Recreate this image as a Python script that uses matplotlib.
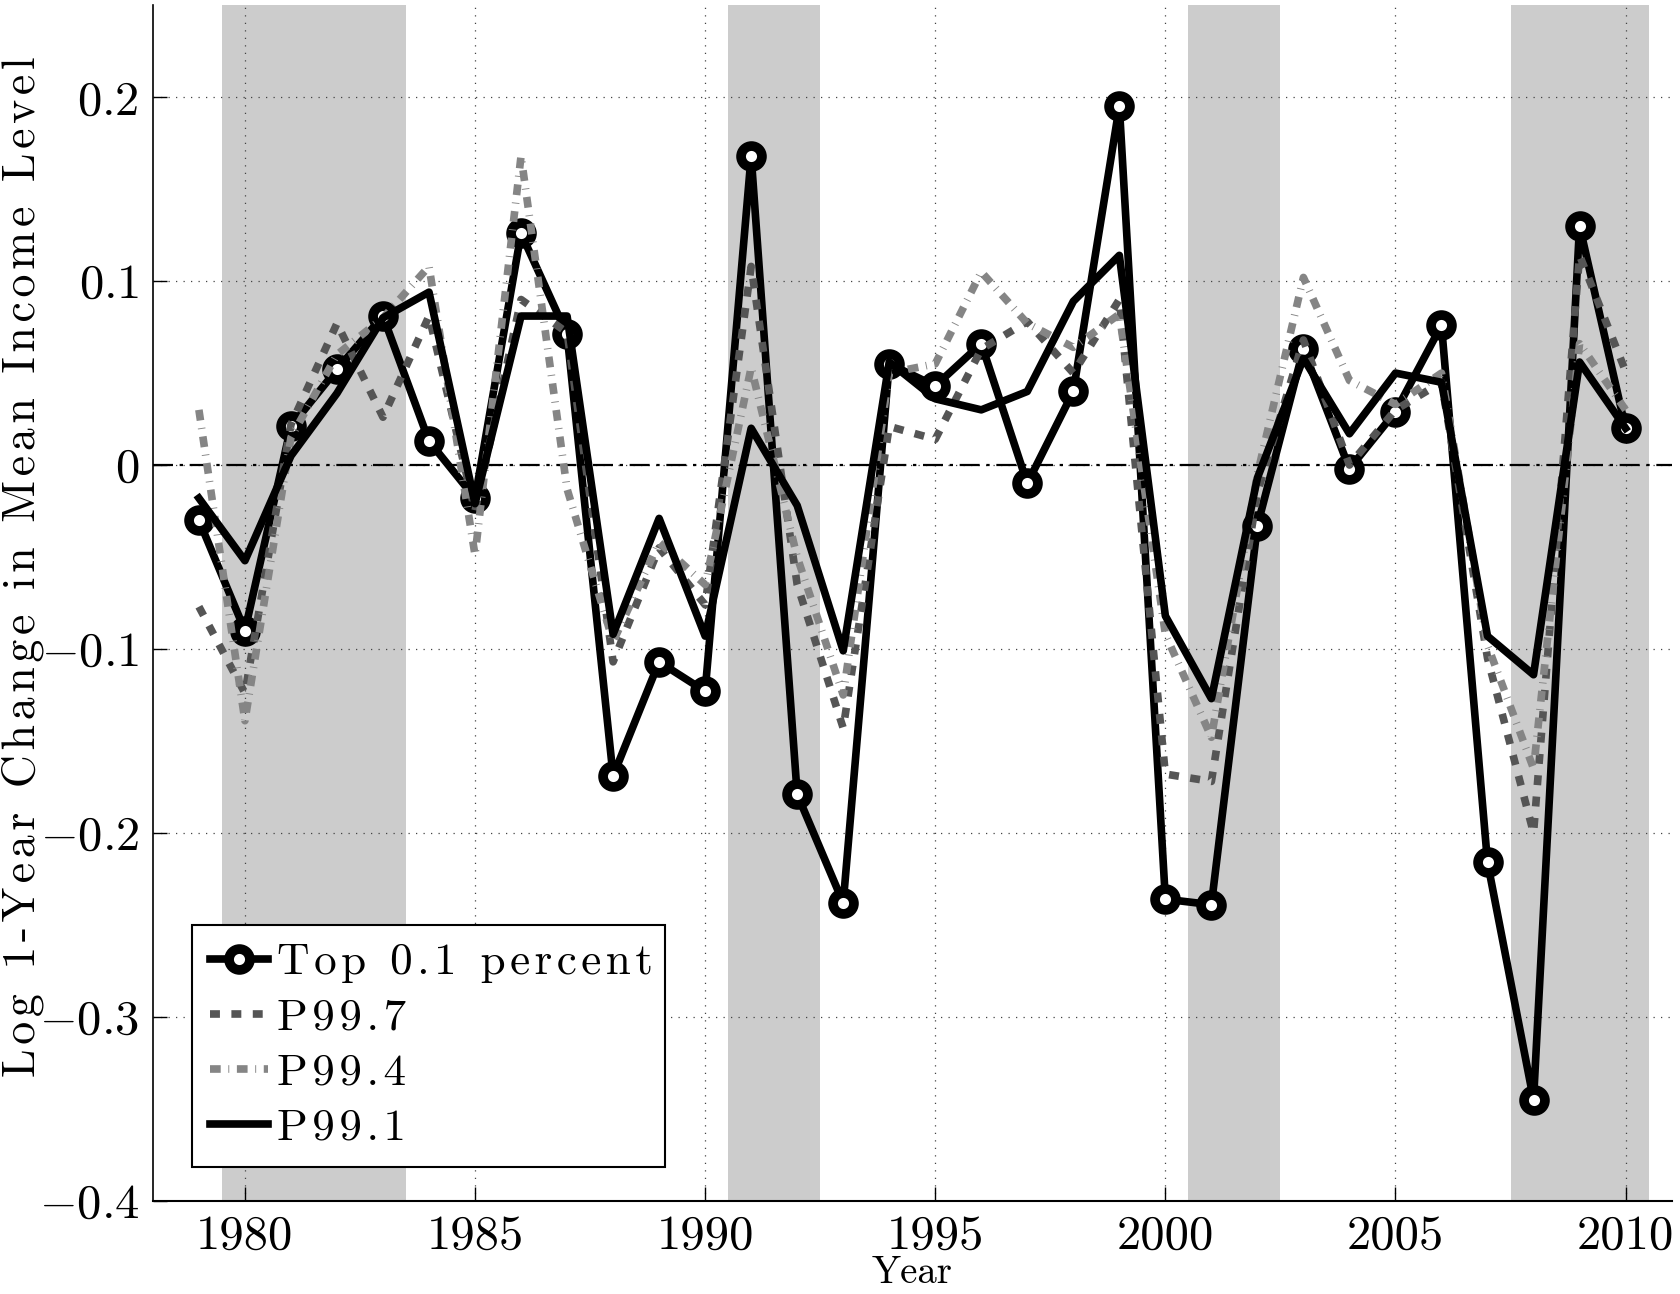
import matplotlib
matplotlib.use("Agg")
import matplotlib.pyplot as plt

plt.rcParams['font.family'] = 'serif'
plt.rcParams['font.serif'] = ['cmr10', 'DejaVu Serif']
plt.rcParams['mathtext.fontset'] = 'cm'
plt.rcParams['axes.formatter.use_mathtext'] = True

years = list(range(1979, 2011))

top01 = [-0.030, -0.090, 0.021, 0.052, 0.081, 0.013, -0.018, 0.126, 0.071, -0.169,
         -0.107, -0.123, 0.168, -0.179, -0.238, 0.055, 0.043, 0.066, -0.010, 0.040,
         0.195, -0.236, -0.239, -0.033, 0.063, -0.002, 0.029, 0.076, -0.216, -0.345,
         0.130, 0.020]
p997 = [-0.077, -0.124, 0.022, 0.077, 0.026, 0.081, -0.025, 0.090, 0.072, -0.107,
        -0.045, -0.076, 0.108, -0.065, -0.143, 0.021, 0.014, 0.063, 0.078, 0.050,
        0.090, -0.168, -0.172, -0.015, 0.068, 0.000, 0.030, 0.045, -0.105, -0.200,
        0.114, 0.051]
p994 = [0.030, -0.139, 0.015, 0.060, 0.080, 0.108, -0.049, 0.168, -0.013, -0.096,
        -0.042, -0.065, 0.053, -0.050, -0.125, 0.050, 0.055, 0.105, 0.077, 0.064,
        0.082, -0.092, -0.148, -0.005, 0.102, 0.046, 0.033, 0.050, -0.098, -0.165,
        0.066, 0.030]
p991 = [-0.018, -0.052, 0.005, 0.039, 0.080, 0.094, -0.021, 0.081, 0.081, -0.092,
        -0.029, -0.093, 0.020, -0.022, -0.101, 0.056, 0.036, 0.030, 0.040, 0.089,
        0.114, -0.082, -0.127, -0.007, 0.058, 0.017, 0.050, 0.045, -0.093, -0.114,
        0.056, 0.020]

series_names = ['Top 0.1 percent', 'P99.7', 'P99.4', 'P99.1']

recessions = [(1979.5, 1983.5), (1990.5, 1992.5), (2000.5, 2002.5), (2007.5, 2010.5)]

xticks = [1980, 1985, 1990, 1995, 2000, 2005, 2010]
yticks = [-0.4, -0.3, -0.2, -0.1, 0.0, 0.1, 0.2]
ytick_labels = ['$-0.4$', '$-0.3$', '$-0.2$', '$-0.1$', '$0$', '$0.1$', '$0.2$']


def spaced(s):
    # the original text is letter-spaced, so put a hair space between characters
    return '\u200a'.join(s)


fig = plt.figure(figsize=(16.8, 12.94), dpi=100)
ax = fig.add_axes([0.091, 0.072, 0.904, 0.924])

# recession bands
for start, end in recessions:
    ax.axvspan(start, end, color='#cccccc', lw=0, zorder=0.5)

ax.axhline(0, color='black', lw=1.6, linestyle=(0, (9, 3, 1.5, 3)), zorder=1.8)

ax.plot(years, top01, color='black', lw=5.5, marker='o', ms=15, mew=7,
        mfc='white', mec='black', label=spaced(series_names[0]), zorder=3)
ax.plot(years, p997, color='#555555', lw=5.5, linestyle=(0, (1.3, 1.5)),
        label=spaced(series_names[1]), zorder=3.2)
ax.plot(years, p994, color='#858585', lw=5.5, linestyle=(0, (1.4, 1.0, 0.12, 1.0)),
        label=spaced(series_names[2]), zorder=3.3)
ax.plot(years, p991, color='black', lw=5.5, label=spaced(series_names[3]), zorder=3.5)

ax.set_xlim(1978, 2011)
ax.set_ylim(-0.4, 0.25)
ax.set_xticks(xticks)
ax.set_xticklabels([str(y) for y in xticks])
ax.set_yticks(yticks)
ax.set_yticklabels(ytick_labels)
ax.tick_params(direction='in', length=10, width=1.0, labelsize=35, pad=10)

ax.grid(True, color='#444444', lw=0.9, linestyle=(0, (1, 5)))
ax.spines['top'].set_visible(False)
ax.spines['right'].set_visible(False)
ax.spines['left'].set_linewidth(1.2)
ax.spines['bottom'].set_linewidth(1.5)

fig.text(23 / 1680, 1 - 567 / 1294, spaced('Log 1-Year Change in Mean Income Level'),
         rotation=90, ha='center', va='center', fontsize=33,
         family=['cmr10', 'DejaVu Serif'])
fig.text(0.543, 1 - 1273 / 1294, 'Year', ha='center', va='center', fontsize=28)

leg = ax.legend(loc='lower left', bbox_to_anchor=(0.114, 0.0984, 0.282, 0.19),
                bbox_transform=fig.transFigure, mode='expand', borderaxespad=0,
                prop={'family': ['cmr10', 'DejaVu Serif'], 'size': 32.5},
                handlelength=1.3, handletextpad=0.2, borderpad=0.4,
                labelspacing=0.32, fancybox=False, framealpha=1, edgecolor='black')
leg.get_frame().set_linewidth(1.5)

fig.savefig('out.png', dpi=100)
